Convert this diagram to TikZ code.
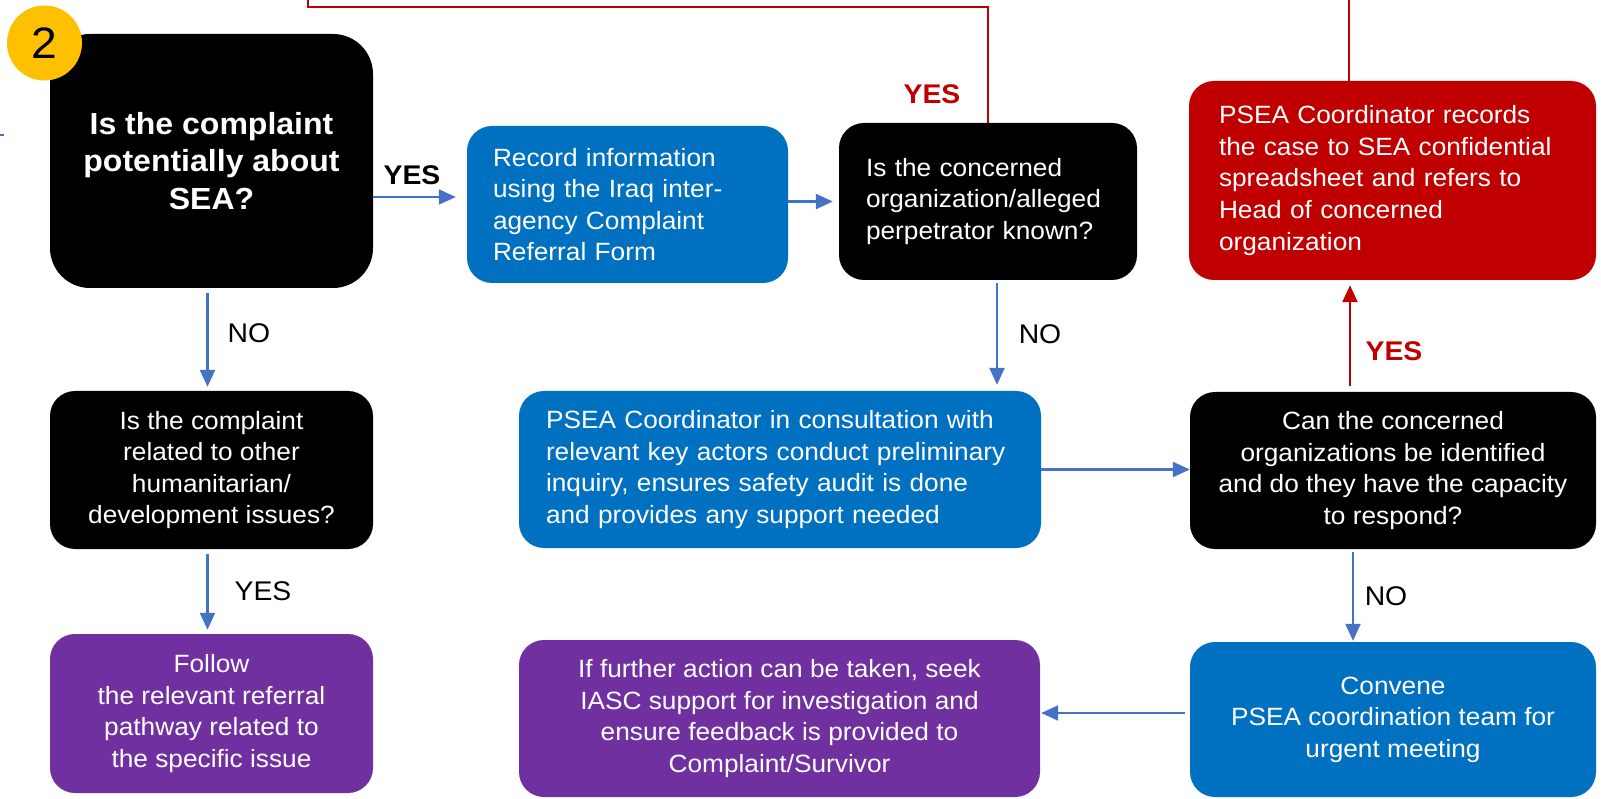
\documentclass[tikz,border=0pt]{standalone}
\usepackage{fontspec}
\setmainfont{Liberation Sans}[FakeStretch=1.05]
\usetikzlibrary{arrows.meta}
\definecolor{pblue}{HTML}{0070C0}
\definecolor{pred}{HTML}{C00000}
\definecolor{ppurple}{HTML}{7030A0}
\definecolor{ablue}{HTML}{4472C4}
\definecolor{pgold}{HTML}{FFC000}
\tikzset{
  box/.style={rounded corners=25pt, inner sep=0pt, text=white, align=center,
    font=\fontsize{25}{31.6}\selectfont},
  qbox/.style={box, fill=black},
  bbox/.style={box, fill=pblue},
  rbox/.style={box, fill=pred},
  pbox/.style={box, fill=ppurple},
  arr/.style={draw=ablue, line width=2.3pt, -{Triangle[length=17pt,width=15pt]}},
  rarr/.style={draw=pred, line width=2.3pt, -{Triangle[length=17pt,width=15pt]}},
  redline/.style={draw=pred, line width=2.2pt},
  lbl/.style={inner sep=0pt, font=\fontsize{27}{30}\selectfont},
  blbl/.style={lbl, font=\bfseries\fontsize{27}{30}\selectfont},
}
\begin{document}
\begin{tikzpicture}[x=1pt,y=-1pt]
\useasboundingbox (0,0) rectangle (1601,799);
% boxes
\node[qbox, rounded corners=40pt, minimum width=323pt, minimum height=254pt,
  font=\bfseries\fontsize{30.5}{37.5}\selectfont] (b1) at (211.5,161)
  {Is the complaint\\potentially about\\SEA?};
\node[bbox, align=left, minimum width=321pt, minimum height=157pt, text width=269pt] (b2) at (627.5,204.5)
  {Record information\\using the Iraq inter-\\agency Complaint\\Referral Form};
\node[qbox, align=left, minimum width=298pt, minimum height=157pt, text width=244pt] (b3) at (988,201.5)
  {Is the concerned\\organization/alleged\\perpetrator known?};
\node[rbox, align=left, minimum width=407pt, minimum height=199pt, text width=347pt] (b4) at (1392.5,180.5)
  {PSEA Coordinator records\\the case to SEA confidential\\spreadsheet and refers to\\Head of concerned\\organization};
\node[qbox, minimum width=323pt, minimum height=158pt] (b5) at (211.5,470)
  {Is the complaint\\related to other\\humanitarian/\\development issues?};
\node[bbox, align=left, minimum width=522pt, minimum height=157pt, text width=468pt] (b6) at (780,469.5)
  {PSEA Coordinator in consultation with\\relevant key actors conduct preliminary\\inquiry, ensures safety audit is done\\and provides any support needed};
\node[qbox, minimum width=406pt, minimum height=157pt] (b7) at (1393,470.5)
  {Can the concerned\\organizations be identified\\and do they have the capacity\\to respond?};
\node[pbox, minimum width=323pt, minimum height=159pt] (b8) at (211.5,713.5)
  {Follow\\the relevant referral\\pathway related to\\the specific issue};
\node[pbox, minimum width=521pt, minimum height=157pt] (b9) at (779.5,718.5)
  {If further action can be taken, seek\\IASC support for investigation and\\ensure feedback is provided to\\Complaint/Survivor};
\node[bbox, minimum width=406pt, minimum height=155pt] (b10) at (1393,719.5)
  {Convene\\PSEA coordination team for\\urgent meeting};
% number badge
\node[circle, fill=pgold, minimum size=75pt, inner sep=0pt,
  font=\fontsize{44}{44}\selectfont] (num) at (44.5,43) {2};
% small fragment at left edge
\draw[ablue, line width=2.3pt] (0,135) -- (4,135);
% red return lines
\coordinate (tl) at (308,7);
\coordinate (tl0) at (308,0);
\coordinate (rt) at (1349,0);
\draw[redline] (b3.north) |- (tl) -- (tl0);
\draw[redline] (rt |- b4.north) -- (rt);
% connectors
\draw[arr, shorten >=11pt] (b1.east |- 0,197) -- (b2.west |- 0,197);
\draw[arr, shorten >=6pt] (b2.east |- b3.west) -- (b3.west);
\draw[arr, shorten <=5pt, shorten >=4pt] ([xshift=-4pt]b1.south) -- ([xshift=-4pt]b5.north);
\draw[arr, shorten <=5pt, shorten >=4pt] ([xshift=-4pt]b5.south) -- ([xshift=-4pt]b8.north);
\draw[arr, shorten <=3pt, shorten >=6pt] ([xshift=9pt]b3.south) -- ([xshift=9pt]b3.south |- b6.north);
\draw[arr] (b6.east) -- (b6.east -| b7.west);
\draw[rarr, shorten <=6pt, shorten >=5pt] ([xshift=-43pt]b7.north) -- ([xshift=-43pt]b7.north |- b4.south);
\draw[arr, shorten <=3pt, shorten >=1pt] ([xshift=-40pt]b7.south) -- ([xshift=-40pt]b7.south |- b10.north);
\draw[arr, shorten <=5pt, shorten >=1pt] ([yshift=6.5pt]b10.west) -- ([yshift=6.5pt]b10.west -| b9.east);
% labels
\node[blbl] (lyes1) at (412,175) {YES};
\node[lbl] (lno1) at (249,333) {NO};
\node[lbl] (lyes2) at (263,591) {YES};
\node[lbl] (lno2) at (1040,334) {NO};
\node[blbl, text=pred] (lyes3) at (932,94) {YES};
\node[blbl, text=pred] (lyes4) at (1394,351) {YES};
\node[lbl] (lno3) at (1386,596) {NO};
\end{tikzpicture}
\end{document}
